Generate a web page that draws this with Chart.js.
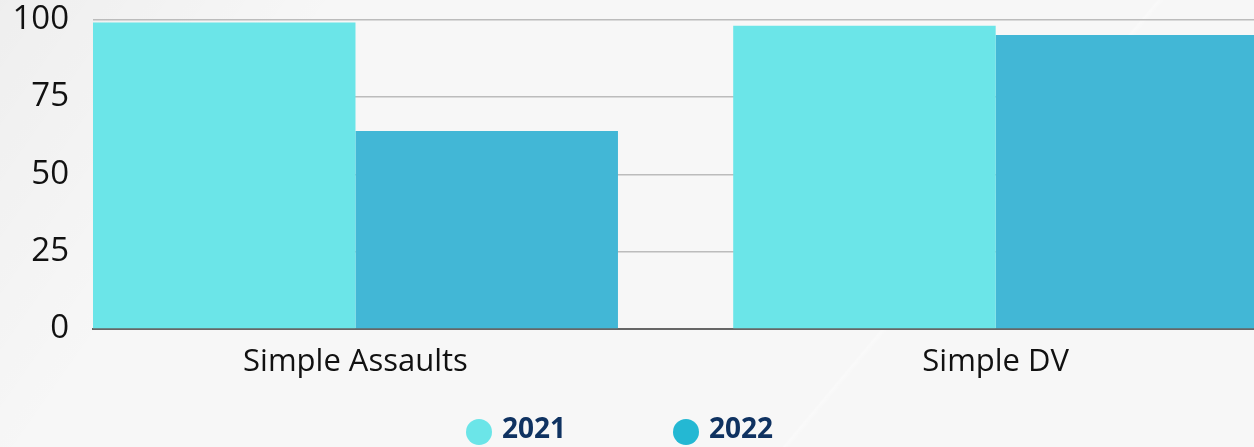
<!DOCTYPE html>
<html>
<head>
<meta charset="utf-8">
<script src="https://cdn.jsdelivr.net/npm/chart.js@4.4.1/dist/chart.umd.min.js"></script>
<style>
  html, body { margin: 0; padding: 0; }
  body {
    width: 1254px; height: 447px; overflow: hidden; position: relative;
    background:
      linear-gradient(130deg, transparent 0%, transparent 71%, rgba(255,255,255,0.35) 71.15%, transparent 71.5%),
      linear-gradient(125deg, rgba(0,0,0,0.035) 0%, rgba(0,0,0,0.0) 22%),
      #f7f7f7;
  }
  #wrap { position: absolute; left: 0; top: 0; width: 1254px; height: 447px; }
  .legend-dot { position: absolute; width: 26px; height: 26px; border-radius: 50%; }
  .legend-text {
    position: absolute; font-family: "Open Sans", sans-serif; font-weight: 700;
    font-size: 28px; line-height: 28px; color: #0f3261; white-space: nowrap;
  }
</style>
</head>
<body>
<div id="wrap"><canvas id="chart" width="1254" height="447"></canvas></div>
<div id="legend"></div>
<script>
// Categories and yearly values
const categories = ['Simple Assaults', 'Simple DV'];
const seriesNames = ['2021', '2022'];
const values2021 = [99, 98];
const values2022 = [64, 95];
const yTicks = [0, 25, 50, 75, 100];

const barColors = ['#6be5e8', '#42b7d6'];
const legendColors = ['#6be5e8', '#24b8d3'];

const toPoints = vals => vals.map((v, i) => ({ x: i, y: v }));

const chart = new Chart(document.getElementById('chart'), {
  type: 'bar',
  data: {
    datasets: [
      { label: seriesNames[0], data: toPoints(values2021), backgroundColor: barColors[0], borderWidth: 0 },
      { label: seriesNames[1], data: toPoints(values2022), backgroundColor: barColors[1], borderWidth: 0 }
    ]
  },
  options: {
    responsive: false,
    animation: false,
    devicePixelRatio: 1,
    categoryPercentage: 0.82,
    barPercentage: 1.0,
    layout: { padding: { top: 19.5, left: 0, right: 0, bottom: 58 } },
    plugins: { legend: { display: false }, tooltip: { enabled: false } },
    scales: {
      x: {
        type: 'linear',
        bounds: 'data',
        offset: false,
        min: -0.41,
        max: 1.4035,
        afterBuildTicks: s => { s.ticks = categories.map((_, i) => ({ value: i })); },
        afterFit: s => { s.height = 60; s.paddingLeft = 0; s.paddingRight = 0; },
        grid: { display: true, offset: false, color: 'rgba(0,0,0,0)', drawTicks: false },
        border: { display: true, color: '#666666', width: 2 },
        ticks: {
          autoSkip: false, maxRotation: 0, padding: 15,
          color: '#111111',
          font: { family: 'Open Sans', size: 31 },
          callback: v => categories[v]
        }
      },
      y: {
        min: 0,
        max: 100,
        afterBuildTicks: s => { s.ticks = yTicks.map(v => ({ value: v })); },
        afterFit: s => { s.width = 93; s.paddingTop = 0; s.paddingBottom = 0; },
        grid: {
          color: ctx => ctx.tick && ctx.tick.value === 0 ? 'rgba(0,0,0,0)' : '#bcbcbc',
          lineWidth: 1.5,
          drawTicks: false
        },
        border: { display: false },
        ticks: {
          padding: 24,
          color: '#111111',
          font: { family: 'Open Sans', size: 33 }
        }
      }
    }
  }
});

// Legend row under the chart
const legendPos = [{ dot: 466, text: 502 }, { dot: 673, text: 709 }];
const legend = document.getElementById('legend');
seriesNames.forEach((name, i) => {
  const dot = document.createElement('div');
  dot.className = 'legend-dot';
  dot.style.left = legendPos[i].dot + 'px';
  dot.style.top = '419px';
  dot.style.background = legendColors[i];
  const txt = document.createElement('div');
  txt.className = 'legend-text';
  txt.style.left = legendPos[i].text + 'px';
  txt.style.top = '413px';
  txt.textContent = name;
  legend.appendChild(dot);
  legend.appendChild(txt);
});
</script>
</body>
</html>
